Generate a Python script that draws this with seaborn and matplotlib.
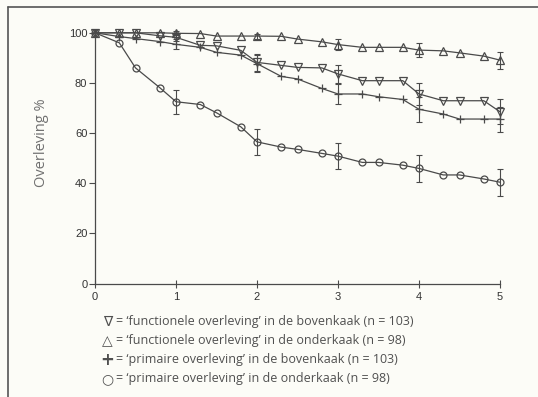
import matplotlib
matplotlib.use("Agg")
import matplotlib.pyplot as plt
import seaborn as sns
import pandas as pd
from matplotlib.lines import Line2D

# ---- data ----
years = [0, 0.3, 0.5, 0.8, 1.0, 1.3, 1.5, 1.8, 2.0, 2.3, 2.5, 2.8, 3.0, 3.3, 3.5, 3.8, 4.0, 4.3, 4.5, 4.8, 5.0]
func_boven = [100, 100, 100, 98.8, 98.2, 95.0, 94.8, 93.0, 88.2, 87.0, 86.2, 86.0, 83.6, 80.9, 80.9, 80.9, 75.6, 72.9, 72.9, 72.9, 68.5]
func_onder = [100, 100, 100, 100, 99.8, 99.7, 98.7, 98.7, 98.7, 98.6, 97.5, 96.4, 95.3, 94.2, 94.2, 94.2, 93.1, 92.8, 92.0, 90.7, 89.1]
prim_boven = [100, 98.5, 97.7, 96.5, 95.4, 94.2, 92.2, 91.1, 87.7, 82.6, 81.6, 77.8, 75.6, 75.6, 74.5, 73.4, 69.5, 67.6, 65.6, 65.6, 65.6]
prim_onder = [100, 96.0, 86.0, 78.1, 72.5, 71.4, 68.1, 62.5, 56.5, 54.4, 53.5, 51.9, 50.8, 48.3, 48.3, 47.2, 45.9, 43.3, 43.3, 41.7, 40.4]

err_years = [1, 2, 3, 4, 5]
err_func_boven = [1.5, 3.5, 3.6, 4.5, 5.0]
err_func_onder = [0.8, 1.0, 2.2, 2.7, 3.4]
err_prim_boven = [2.0, 3.5, 4.1, 5.0, 5.0]
err_prim_onder = [4.8, 5.3, 5.3, 5.4, 5.3]

x_ticks = [0, 1, 2, 3, 4, 5]
y_ticks = [0, 20, 40, 60, 80, 100]
y_label = "Overleving %"
legend_symbols = ["\u2207", "\u25b3", "+", "\u25cb"]
legend_texts = [
    "= \u2018functionele overleving\u2019 in de bovenkaak (n = 103)",
    "= \u2018functionele overleving\u2019 in de onderkaak (n = 98)",
    "= \u2018primaire overleving\u2019 in de bovenkaak (n = 103)",
    "= \u2018primaire overleving\u2019 in de onderkaak (n = 98)",
]

series = [
    (func_boven, err_func_boven, "v", 5.5),
    (func_onder, err_func_onder, "^", 5.5),
    (prim_boven, err_prim_boven, "+", 6.0),
    (prim_onder, err_prim_onder, "o", 5.0),
]

# ---- figure ----
sns.set_theme(style="ticks")
bg = "#fcfcf7"
ink = "#4a4a4a"
fig = plt.figure(figsize=(5.38, 3.97), dpi=100, facecolor=bg)
W, H = 538, 397
ax = fig.add_axes([95 / W, 1 - 283.5 / H, 405 / W, 250.7 / H])
ax.set_facecolor(bg)

for vals, errs, mk, ms in series:
    df = pd.DataFrame({"t": years, "v": vals})
    sns.lineplot(data=df, x="t", y="v", ax=ax, color=ink, lw=0.9,
                 marker=mk, markersize=ms, markerfacecolor="none",
                 markeredgecolor=ink, markeredgewidth=0.9, clip_on=False)
    ev = [vals[years.index(t)] for t in err_years]
    ax.errorbar(err_years, ev, yerr=errs, fmt="none", ecolor=ink,
                elinewidth=0.8, capsize=2.5, capthick=0.8, clip_on=False)

ax.set_xlim(0, 5)
ax.set_ylim(0, 100)
ax.set_xticks(x_ticks)
ax.set_yticks(y_ticks)
ax.set_xticklabels([str(v) for v in x_ticks], fontsize=8, color="#333333", family="Liberation Sans")
ax.set_yticklabels([str(v) for v in y_ticks], fontsize=8, color="#333333", family="Liberation Sans")
ax.tick_params(axis="y", direction="out", length=4, width=0.8, color=ink, pad=1.5)
ax.tick_params(axis="x", direction="inout", length=6, width=0.8, color=ink, pad=3)
ax.set_xlabel("")
ax.set_ylabel(y_label, fontsize=10.5, color="#707070", family=["Open Sans", "DejaVu Sans"])
ax.yaxis.set_label_coords(-0.114, 0.56)
for s in ["top", "right"]:
    ax.spines[s].set_visible(False)
for s in ["left", "bottom"]:
    ax.spines[s].set_color(ink)
    ax.spines[s].set_linewidth(0.9)

# legend as text lines
ys = [321.7, 340.7, 360.0, 378.7]
sym_sizes = [10, 10, 12, 10]
sym_weights = ["normal", "normal", "bold", "normal"]
for sym, txt, yp, ss, sw in zip(legend_symbols, legend_texts, ys, sym_sizes, sym_weights):
    fig.text(107.5 / W, 1 - yp / H, sym, fontsize=ss, color="#505050", weight=sw,
             va="center", ha="center", family=["DejaVu Sans"])
    fig.text(115.5 / W, 1 - yp / H, txt, fontsize=9, color="#505050",
             va="center", ha="left", family=["Open Sans", "DejaVu Sans"])

# page frame (top and left lines)
fig.add_artist(Line2D([8 / W, 1], [1 - 7 / H, 1 - 7 / H], color="#555555", lw=1.2, transform=fig.transFigure))
fig.add_artist(Line2D([8 / W, 8 / W], [1 - 7 / H, 0], color="#555555", lw=1.2, transform=fig.transFigure))

fig.savefig("out.png", dpi=100, facecolor=bg)
